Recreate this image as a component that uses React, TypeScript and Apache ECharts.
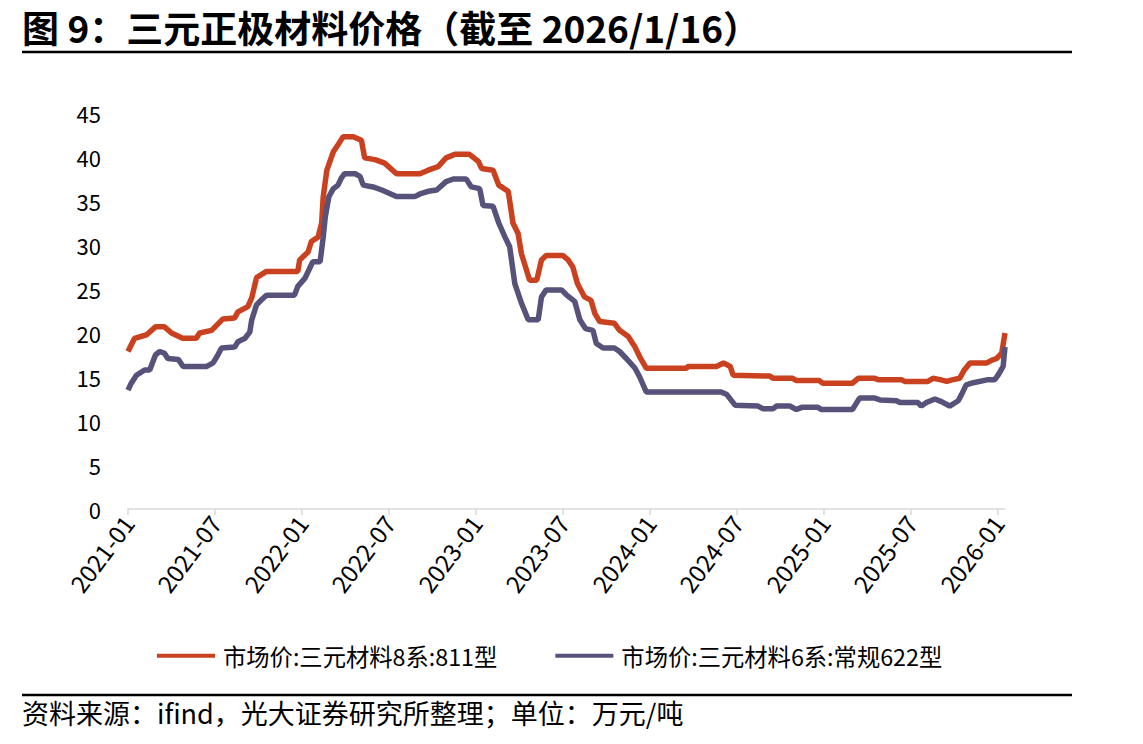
import React, { useEffect, useRef } from "react";
import * as echarts from "echarts";

const TITLE = "图 9：三元正极材料价格（截至 2026/1/16）";
const SOURCE = "资料来源：ifind，光大证券研究所整理；单位：万元/吨";
const NAME_811 = "市场价:三元材料8系:811型";
const NAME_622 = "市场价:三元材料6系:常规622型";

const TICK_LABELS = ["2021-01", "2021-07", "2022-01", "2022-07", "2023-01", "2023-07", "2024-01", "2024-07", "2025-01", "2025-07", "2026-01"];

const dates811 = [
  "2021-01-01", "2021-01-15", "2021-02-09", "2021-02-26", "2021-03-17", "2021-04-01", "2021-04-24", "2021-05-23", "2021-05-30", "2021-06-24",
  "2021-07-18", "2021-08-12", "2021-08-19", "2021-09-09", "2021-09-17", "2021-09-27", "2021-10-18", "2021-12-23", "2021-12-27", "2022-01-14",
  "2022-01-21", "2022-02-04", "2022-02-11", "2022-02-14", "2022-02-21", "2022-03-06", "2022-03-16", "2022-03-27", "2022-04-17", "2022-05-04",
  "2022-05-11", "2022-06-02", "2022-06-22", "2022-07-17", "2022-09-05", "2022-09-22", "2022-10-13", "2022-10-30", "2022-11-17", "2022-12-18",
  "2023-01-06", "2023-01-13", "2023-02-06", "2023-02-17", "2023-03-08", "2023-03-18", "2023-03-29", "2023-04-05", "2023-04-22", "2023-05-07",
  "2023-05-17", "2023-05-27", "2023-07-01", "2023-07-12", "2023-07-22", "2023-08-01", "2023-08-16", "2023-08-30", "2023-09-07", "2023-09-17",
  "2023-10-18", "2023-10-29", "2023-11-16", "2023-11-30", "2023-12-10", "2023-12-24", "2024-03-17", "2024-03-20", "2024-05-19", "2024-06-03",
  "2024-06-17", "2024-06-23", "2024-09-09", "2024-09-16", "2024-10-27", "2024-11-04", "2024-12-22", "2024-12-29", "2025-02-28", "2025-03-12",
  "2025-04-16", "2025-04-23", "2025-06-11", "2025-06-18", "2025-08-06", "2025-08-17", "2025-09-01", "2025-09-15", "2025-09-28", "2025-10-12",
  "2025-10-22", "2025-11-03", "2025-12-08", "2025-12-18", "2025-12-29", "2026-01-09", "2026-01-16",
];
const values811 = [
  17.9, 19.4, 19.8, 20.7, 20.7, 20.0, 19.4, 19.4, 20.0, 20.3,
  21.6, 21.7, 22.4, 23.0, 24.0, 26.3, 27.0, 27.0, 28.3, 29.2,
  30.4, 30.9, 32.5, 35.5, 38.5, 40.6, 41.4, 42.3, 42.3, 41.9,
  39.9, 39.7, 39.3, 38.1, 38.1, 38.5, 38.9, 39.9, 40.3, 40.3,
  39.5, 38.7, 38.5, 36.8, 36.1, 32.5, 31.3, 29.0, 26.0, 26.0,
  28.3, 28.8, 28.8, 28.3, 27.5, 25.6, 24.1, 23.7, 22.2, 21.3,
  21.1, 20.3, 19.6, 18.4, 17.3, 16.0, 16.0, 16.2, 16.2, 16.6,
  16.2, 15.2, 15.1, 14.85, 14.85, 14.6, 14.6, 14.3, 14.3, 14.85,
  14.85, 14.7, 14.7, 14.5, 14.5, 14.85, 14.7, 14.5, 14.7, 14.85,
  15.8, 16.6, 16.6, 16.9, 17.1, 17.7, 20.0,
];

const dates622 = [
  "2021-01-01", "2021-01-08", "2021-01-19", "2021-02-05", "2021-02-15", "2021-02-26", "2021-03-07", "2021-03-17", "2021-03-24", "2021-04-15",
  "2021-04-25", "2021-06-14", "2021-06-27", "2021-07-05", "2021-07-15", "2021-08-12", "2021-08-19", "2021-09-03", "2021-09-13", "2021-09-17",
  "2021-09-27", "2021-10-04", "2021-10-18", "2021-12-16", "2021-12-23", "2022-01-07", "2022-01-17", "2022-01-24", "2022-02-08", "2022-02-14",
  "2022-02-18", "2022-02-25", "2022-03-06", "2022-03-16", "2022-03-23", "2022-03-30", "2022-04-21", "2022-05-01", "2022-05-08", "2022-05-29",
  "2022-06-16", "2022-07-17", "2022-08-25", "2022-09-05", "2022-09-22", "2022-10-10", "2022-10-30", "2022-11-14", "2022-12-11", "2022-12-22",
  "2023-01-09", "2023-01-16", "2023-02-06", "2023-02-17", "2023-03-01", "2023-03-11", "2023-03-22", "2023-04-05", "2023-04-19", "2023-05-10",
  "2023-05-17", "2023-05-27", "2023-06-28", "2023-07-09", "2023-07-26", "2023-08-06", "2023-08-18", "2023-09-03", "2023-09-10", "2023-09-24",
  "2023-10-18", "2023-10-29", "2023-11-12", "2023-11-30", "2023-12-10", "2023-12-24", "2024-05-29", "2024-06-10", "2024-06-27", "2024-08-15",
  "2024-08-25", "2024-09-16", "2024-09-23", "2024-10-21", "2024-11-04", "2024-11-15", "2024-12-19", "2024-12-26", "2025-02-28", "2025-03-15",
  "2025-04-16", "2025-04-27", "2025-06-01", "2025-06-08", "2025-07-16", "2025-07-23", "2025-08-03", "2025-08-21", "2025-09-04", "2025-09-21",
  "2025-10-09", "2025-10-16", "2025-10-26", "2025-11-10", "2025-12-11", "2025-12-25", "2026-01-01", "2026-01-12", "2026-01-16",
];
const values622 = [
  13.5, 14.3, 15.2, 15.8, 15.8, 17.5, 17.9, 17.7, 17.1, 17.0,
  16.2, 16.2, 16.6, 17.3, 18.3, 18.4, 19.0, 19.4, 20.1, 21.5,
  23.2, 23.6, 24.3, 24.3, 25.3, 26.2, 27.3, 28.1, 28.1, 30.9,
  33.2, 35.5, 36.4, 36.8, 37.6, 38.1, 38.1, 37.8, 36.8, 36.6,
  36.25, 35.5, 35.5, 35.8, 36.1, 36.25, 37.2, 37.5, 37.5, 36.6,
  36.4, 34.5, 34.4, 32.5, 30.9, 29.8, 25.6, 23.4, 21.5, 21.5,
  24.1, 24.9, 24.9, 24.3, 23.6, 21.5, 20.5, 20.3, 18.8, 18.3,
  18.3, 17.9, 17.1, 16.0, 15.0, 13.3, 13.3, 13.0, 11.8, 11.7,
  11.4, 11.4, 11.7, 11.7, 11.3, 11.55, 11.55, 11.3, 11.3, 12.6,
  12.6, 12.4, 12.3, 12.1, 12.1, 11.7, 12.1, 12.5, 12.2, 11.7,
  12.3, 13.0, 14.1, 14.35, 14.7, 14.7, 15.2, 16.2, 18.4,
];

const Y_MIN = 0;
const Y_MAX = 45;
const Y_STEP = 5;

const FONT = "'Noto Sans CJK SC', 'Noto Sans', sans-serif";
const RED = "#C9411F";
const PURPLE = "#56527A";

function monthIndex(s: string): number {
  const [y, m, d] = s.split("-").map(Number);
  const dim = new Date(y, m, 0).getDate();
  return (y - 2021) * 12 + (m - 1) + (d - 1) / dim;
}

const tickValues = TICK_LABELS.map((t) => monthIndex(t + "-01"));
const xMax = monthIndex("2026-01-16");

function labelFor(v: number): string {
  const idx = tickValues.findIndex((t) => Math.abs(t - v) < 1e-6);
  return idx >= 0 ? TICK_LABELS[idx] : "";
}

export default function App() {
  const ref = useRef<HTMLDivElement>(null);
  useEffect(() => {
    if (!ref.current) return;
    const chart = echarts.init(ref.current, undefined, { renderer: "svg" });
    chart.setOption({
      animation: false,
      backgroundColor: "#ffffff",
      textStyle: { fontFamily: FONT },
      title: {
        text: TITLE,
        left: 17,
        top: 0,
        textStyle: { fontSize: 37, fontWeight: "bold", color: "#000", fontFamily: FONT, lineHeight: 44 },
      },
      grid: { left: 128, right: 138, top: 113, bottom: 235, containLabel: false },
      legend: {
        left: 152,
        top: 639,
        icon: "rect",
        itemWidth: 58,
        itemHeight: 4,
        itemGap: 58,
        textStyle: { fontSize: 23.3, color: "#000", fontFamily: FONT, padding: [0, 0, 0, 3] },
        data: [NAME_811, NAME_622],
      },
      xAxis: {
        type: "value",
        min: 0,
        max: xMax,
        axisLine: { show: true, lineStyle: { color: "#D9D9D9", width: 1.5 } },
        axisTick: { show: true, length: 6, customValues: tickValues, lineStyle: { color: "#D9D9D9", width: 1.5 } },
        axisLabel: {
          customValues: tickValues,
          formatter: (v: number) => labelFor(v),
          rotate: 53,
          fontSize: 24,
          color: "#000",
          fontFamily: FONT,
          margin: 9,
        },
        splitLine: { show: false },
      },
      yAxis: {
        type: "value",
        min: Y_MIN,
        max: Y_MAX,
        interval: Y_STEP,
        axisLine: { show: false },
        axisTick: { show: false },
        splitLine: { show: false },
        axisLabel: { fontSize: 22, color: "#000", fontFamily: FONT, margin: 27 },
      },
      series: [
        {
          name: NAME_811,
          type: "line",
          data: dates811.map((d, i) => [monthIndex(d), values811[i]]),
          showSymbol: false,
          lineStyle: { color: RED, width: 5.5 },
          itemStyle: { color: RED },
        },
        {
          name: NAME_622,
          type: "line",
          data: dates622.map((d, i) => [monthIndex(d), values622[i]]),
          showSymbol: false,
          lineStyle: { color: PURPLE, width: 5.5 },
          itemStyle: { color: PURPLE },
        },
      ],
      graphic: [
        {
          type: "line",
          shape: { x1: 22, y1: 52, x2: 1072, y2: 52 },
          style: { stroke: "#000", lineWidth: 2.5 },
        },
        {
          type: "line",
          shape: { x1: 22, y1: 695, x2: 1072, y2: 695 },
          style: { stroke: "#000", lineWidth: 2.5 },
        },
        {
          type: "text",
          left: 22,
          top: 699,
          style: { text: SOURCE, fontSize: 27, fill: "#000", fontFamily: FONT },
        },
      ],
    });
    return () => chart.dispose();
  }, []);
  return (
    <div
      ref={ref}
      style={{ position: "fixed", left: 0, top: 0, width: 1143, height: 744, background: "#fff" }}
    />
  );
}
